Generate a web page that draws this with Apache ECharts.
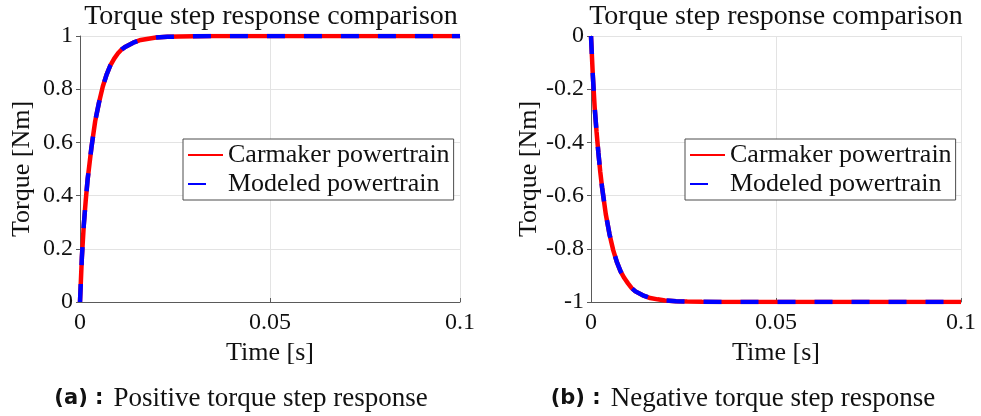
<!DOCTYPE html>
<html>
<head>
<meta charset="utf-8">
<script src="https://cdn.jsdelivr.net/npm/echarts@6/dist/echarts.min.js"></script>
<style>
html,body{margin:0;padding:0;background:#fff;}
#chart{width:981px;height:416px;}
</style>
</head>
<body>
<div id="chart"></div>
<script>
// ---- data ----
var timeS = [0, 0.0005, 0.001, 0.0015, 0.002, 0.0025, 0.003, 0.0035, 0.004, 0.005, 0.006, 0.007, 0.008, 0.009, 0.010, 0.011, 0.012, 0.014, 0.016, 0.018, 0.020, 0.023, 0.026, 0.030, 0.035, 0.040, 0.050, 0.060, 0.070, 0.080, 0.090, 0.100];
var carmakerPos = [0, 0.17, 0.29, 0.38, 0.46, 0.52, 0.58, 0.63, 0.68, 0.75, 0.81, 0.855, 0.89, 0.915, 0.935, 0.95, 0.96, 0.975, 0.985, 0.99, 0.994, 0.997, 0.998, 0.999, 1, 1, 1, 1, 1, 1, 1, 1];
var modeledPos  = [0, 0.17, 0.29, 0.38, 0.46, 0.52, 0.58, 0.63, 0.68, 0.75, 0.81, 0.855, 0.89, 0.915, 0.935, 0.95, 0.96, 0.975, 0.985, 0.99, 0.994, 0.997, 0.998, 0.999, 1, 1, 1, 1, 1, 1, 1, 1];
var carmakerNeg = [0, -0.15, -0.27, -0.36, -0.44, -0.51, -0.57, -0.62, -0.67, -0.745, -0.805, -0.85, -0.885, -0.91, -0.93, -0.948, -0.96, -0.975, -0.985, -0.99, -0.994, -0.997, -0.998, -0.999, -1, -1, -1, -1, -1, -1, -1, -1];
var modeledNeg  = [0, -0.15, -0.27, -0.36, -0.44, -0.51, -0.57, -0.62, -0.67, -0.745, -0.805, -0.85, -0.885, -0.91, -0.93, -0.948, -0.96, -0.975, -0.985, -0.99, -0.994, -0.997, -0.998, -0.999, -1, -1, -1, -1, -1, -1, -1, -1];
var xTicks = ['0', '0.05', '0.1'];
var yTicksPos = ['0', '0.2', '0.4', '0.6', '0.8', '1'];
var yTicksNeg = ['-1', '-0.8', '-0.6', '-0.4', '-0.2', '0'];
var seriesNames = ['Carmaker powertrain', 'Modeled powertrain'];
var titleText = 'Torque step response comparison';
var xName = 'Time [s]';
var yName = 'Torque [Nm]';
var captions = [['(a) :', 'Positive torque step response'], ['(b) :', 'Negative torque step response']];

function pairs(t, v) { return t.map(function (x, i) { return [x, v[i]]; }); }

var SERIF = '"Liberation Serif", "Times New Roman", serif';
var TXT = '#111111';
var AX = '#5a5a5a';
var GRIDC = '#e3e3e3';

function xAxisDef(gi) {
  return {
    type: 'value', gridIndex: gi, min: 0, max: 0.1, interval: 0.05,
    name: xName, nameLocation: 'middle', nameGap: 36,
    nameTextStyle: { fontFamily: SERIF, fontSize: 26, color: TXT },
    axisLine: { show: true, onZero: false, lineStyle: { color: AX, width: 1 } },
    axisTick: { show: true, inside: true, length: 4, lineStyle: { color: AX } },
    axisLabel: { fontFamily: SERIF, fontSize: 24, color: TXT, margin: 9,
      formatter: function (v) { return xTicks[Math.round(v / 0.05)]; } },
    splitLine: { show: true, lineStyle: { color: GRIDC, width: 1 } }
  };
}
function yAxisDef(gi, mn, mx, labels, gap) {
  return {
    type: 'value', gridIndex: gi, min: mn, max: mx, interval: 0.2,
    name: yName, nameLocation: 'middle', nameGap: gap, nameRotate: 90,
    nameTextStyle: { fontFamily: SERIF, fontSize: 26, color: TXT },
    axisLine: { show: true, onZero: false, lineStyle: { color: AX, width: 1 } },
    axisTick: { show: true, inside: false, length: 4, lineStyle: { color: AX } },
    axisLabel: { fontFamily: SERIF, fontSize: 24, color: TXT, margin: 7,
      formatter: function (v) { return labels[Math.round((v - mn) / 0.2)]; } },
    splitLine: { show: true, lineStyle: { color: GRIDC, width: 1 } }
  };
}
function lineSeries(name, gi, data, color, dashed) {
  return {
    name: name, type: 'line', xAxisIndex: gi, yAxisIndex: gi,
    data: data, showSymbol: false, symbol: 'none', smooth: false,
    lineStyle: { color: color, width: 4.5, type: dashed ? [18, 19] : 'solid', cap: 'butt' },
    itemStyle: { color: color },
    emphasis: { disabled: true }, animation: false, z: dashed ? 3 : 2
  };
}
function legendDef(left) {
  return {
    data: seriesNames, orient: 'vertical', left: left, top: 139,
    itemWidth: 35, itemHeight: 5, itemGap: 3,
    padding: [3, 4, 3, 4],
    backgroundColor: '#fff', borderColor: '#4d4d4d', borderWidth: 1,
    itemStyle: { opacity: 0 },
    textStyle: { fontFamily: SERIF, fontSize: 26, color: TXT },
    selectedMode: false
  };
}

var captionRich = {
  b: { font: 'bold 21px "DejaVu Sans", sans-serif', fill: TXT, padding: [0, 10, 0, 0] },
  n: { font: '27px ' + SERIF, fill: TXT }
};

var chart = echarts.init(document.getElementById('chart'), null, { renderer: 'canvas' });
chart.setOption({
  animation: false,
  backgroundColor: '#fff',
  grid: [
    { left: 80, top: 36, width: 380, height: 266, containLabel: false },
    { left: 591, top: 36, width: 370, height: 266, containLabel: false }
  ],
  xAxis: [xAxisDef(0), xAxisDef(1)],
  yAxis: [yAxisDef(0, 0, 1, yTicksPos, 45), yAxisDef(1, -1, 0, yTicksNeg, 48)],
  legend: [legendDef(183), legendDef(685)],
  series: [
    lineSeries(seriesNames[0], 0, pairs(timeS, carmakerPos), '#ff0000', false),
    lineSeries(seriesNames[1], 0, pairs(timeS, modeledPos), '#0000ff', true),
    lineSeries(seriesNames[0], 1, pairs(timeS, carmakerNeg), '#ff0000', false),
    lineSeries(seriesNames[1], 1, pairs(timeS, modeledNeg), '#0000ff', true)
  ],
  graphic: [
    { type: 'text', x: 271, y: 17, style: { text: titleText, font: '28px ' + SERIF, fill: TXT, align: 'center', verticalAlign: 'middle' } },
    { type: 'text', x: 776, y: 17, style: { text: titleText, font: '28px ' + SERIF, fill: TXT, align: 'center', verticalAlign: 'middle' } },
    { type: 'text', x: 241, y: 399, style: {
        text: '{b|' + captions[0][0] + '}{n|' + captions[0][1] + '}', align: 'center', verticalAlign: 'middle', rich: captionRich } },
    { type: 'text', x: 743, y: 399, style: {
        text: '{b|' + captions[1][0] + '}{n|' + captions[1][1] + '}', align: 'center', verticalAlign: 'middle', rich: captionRich } }
  ]
});
</script>
</body>
</html>
